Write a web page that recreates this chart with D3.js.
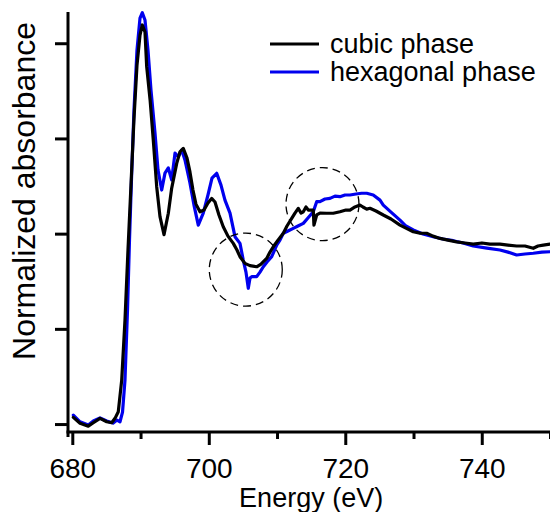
<!DOCTYPE html>
<html>
<head>
<meta charset="utf-8">
<script src="https://cdn.jsdelivr.net/npm/d3@7"></script>
<style>
  html, body { margin: 0; padding: 0; background: #fff; }
  svg { display: block; }
</style>
</head>
<body>
<svg id="chart"></svg>
<script>
// ── Data ──────────────────────────────────────────────
const energyCubic = [680.15,681.13,682.34,683.08,684.06,685.04,685.77,686.26,686.74,687.24,687.72,688.16,688.60,689.03,689.48,689.92,690.26,
  690.65,690.90,691.40,691.87,692.37,692.85,693.44,694.07,694.56,695.30,695.78,696.26,696.81,697.24,697.68,698.12,698.71,699.30,699.88,700.42,
  700.91,701.49,702.12,702.81,703.59,704.13,704.57,705.30,706.03,707.02,707.65,708.48,708.97,709.45,710.14,710.92,711.46,712.15,712.63,713.11,
  713.51,713.85,714.24,714.58,715.31,715.41,715.81,716.29,717.27,718.24,719.22,720.10,720.69,721.42,722.15,722.59,723.14,723.62,724.50,725.57,
  726.70,728.02,728.89,729.96,730.95,731.93,732.85,733.88,735.05,736.32,737.54,738.75,740.03,741.20,742.67,743.84,745.11,746.33,747.55,748.24,749.01,750];
const absCubic = [0.035,0.004,-0.011,0.007,0.030,0.012,0.007,0.030,0.065,0.231,0.546,0.914,1.255,1.597,1.885,2.043,2.096,
  2.059,1.877,1.702,1.49,1.245,1.089,0.995,1.107,1.238,1.369,1.430,1.448,1.397,1.324,1.229,1.155,1.115,1.124,1.161,1.185,
  1.166,1.098,1.036,0.987,0.949,0.914,0.879,0.844,0.832,0.826,0.840,0.870,0.903,0.931,0.966,1.002,1.040,1.080,1.108,1.133,
  1.108,1.115,1.140,1.124,1.124,1.045,1.098,1.108,1.107,1.107,1.115,1.124,1.124,1.140,1.150,1.140,1.129,1.133,1.119,1.098,
  1.077,1.045,1.029,1.010,1.003,1.002,0.987,0.975,0.966,0.957,0.951,0.945,0.951,0.945,0.945,0.940,0.935,0.935,0.923,0.935,0.940,0.945];

const energyHex = [680.15,681.13,682.34,683.08,684.06,685.04,685.96,686.55,686.99,687.36,687.72,688.09,688.38,688.67,689.04,689.48,689.92,690.26,
  690.65,691.09,691.53,692.12,692.56,693.10,693.58,694.07,694.56,695.05,695.53,696.03,696.51,697.24,697.83,698.46,699.19,699.88,700.47,701.16,
  701.79,702.37,703.11,703.84,704.57,705.05,705.45,705.79,706.04,706.29,707.02,707.50,707.99,708.53,709.22,709.95,710.43,710.92,711.60,712.38,
  713.07,713.85,714.53,715.31,715.81,716.29,717.03,717.76,718.49,719.22,719.96,720.69,721.57,722.40,723.14,724.10,725.09,725.57,726.70,728.02,
  728.89,729.96,731.38,732.89,734.31,735.82,737.25,738.75,740.76,742.67,743.84,745.11,746.33,747.55,748.82,750];
const absHex = [0.047,0.012,-0.005,0.016,0.032,0.016,0.005,0.021,0.012,0.063,0.231,0.599,0.966,1.282,1.649,1.964,2.132,2.160,
  2.122,1.964,1.754,1.528,1.334,1.229,1.318,1.345,1.282,1.423,1.404,1.439,1.387,1.266,1.150,1.045,1.108,1.203,1.292,1.317,
  1.255,1.176,1.108,0.984,0.949,0.861,0.798,0.713,0.767,0.774,0.774,0.798,0.826,0.851,0.879,0.940,0.966,1.002,1.014,1.028,
  1.040,1.054,1.082,1.115,1.168,1.168,1.182,1.185,1.197,1.194,1.203,1.203,1.208,1.212,1.212,1.203,1.176,1.150,1.113,1.071,
  1.040,1.019,0.998,0.984,0.972,0.963,0.951,0.935,0.924,0.914,0.903,0.888,0.893,0.897,0.903,0.905];

const xMajorTicks = [680, 700, 720, 740];
const xMinorTicks = [690, 710, 730, 750];
const yTicks      = [0, 0.5, 1, 1.5, 2];

const seriesNames  = ['cubic phase', 'hexagonal phase'];
const seriesColors = ['#000000', '#0000ee'];

// dashed circles: [energy, absorbance]
const circleCentres = [[705.42, 0.811], [716.66, 1.155]];

// ── Layout ────────────────────────────────────────────
const W = 550, H = 512;
const FONT = '"Liberation Sans", Arial, sans-serif';

const svg = d3.select('#chart').attr('width', W).attr('height', H);

const x = d3.scaleLinear().domain([680, 750]).range([72.3, 550]);
const y = d3.scaleLinear().domain([-0.068, 2.164]).range([437, 12]);

const axisX = 68, axisY = 432;

// ── Axes ──────────────────────────────────────────────
const yAxis = svg.append('g')
  .attr('transform', `translate(${axisX},0)`)
  .call(d3.axisLeft(y).tickValues(yTicks).tickSize(13).tickSizeOuter(0).tickFormat(''));
yAxis.select('.domain').remove();
yAxis.selectAll('line').attr('stroke', '#000').attr('stroke-width', 3);

svg.append('line')
  .attr('x1', axisX).attr('x2', axisX)
  .attr('y1', 12).attr('y2', 437)
  .attr('stroke', '#000').attr('stroke-width', 3);

const xAxis = svg.append('g')
  .attr('transform', `translate(0,${axisY})`)
  .call(d3.axisBottom(x).tickValues(xMajorTicks).tickSize(13).tickSizeOuter(0).tickPadding(13));
xAxis.select('.domain').remove();
xAxis.selectAll('line').attr('stroke', '#000').attr('stroke-width', 3);
xAxis.selectAll('text')
  .attr('fill', '#000').attr('font-size', 28).attr('font-family', FONT);

svg.append('g')
  .attr('transform', `translate(0,${axisY})`)
  .call(d3.axisBottom(x).tickValues(xMinorTicks).tickSize(7).tickSizeOuter(0).tickFormat(''))
  .call(g => g.select('.domain').remove())
  .call(g => g.selectAll('line').attr('stroke', '#000').attr('stroke-width', 3));

svg.append('line')
  .attr('x1', axisX - 1.5).attr('x2', W)
  .attr('y1', axisY).attr('y2', axisY)
  .attr('stroke', '#000').attr('stroke-width', 3);

// axis labels
svg.append('text')
  .attr('x', (x.range()[0] + x.range()[1]) / 2).attr('y', 507)
  .attr('text-anchor', 'middle')
  .attr('font-size', 27).attr('font-family', FONT)
  .text('Energy (eV)');

svg.append('text')
  .attr('transform', 'translate(35,191) rotate(-90)')
  .attr('text-anchor', 'middle')
  .attr('font-size', 32).attr('font-family', FONT)
  .text('Normalized absorbance');

// ── Curves ────────────────────────────────────────────
const line = d3.line()
  .x(d => x(d[0]))
  .y(d => y(d[1]))
  .curve(d3.curveLinear);

const seriesData = [
  d3.zip(energyCubic, absCubic),
  d3.zip(energyHex, absHex)
];

// hexagonal first so cubic sits over it where they overlap at the edge
[1, 0].forEach(i => {
  svg.append('path')
    .datum(seriesData[i])
    .attr('d', line)
    .attr('fill', 'none')
    .attr('stroke', seriesColors[i])
    .attr('stroke-width', 3.2)
    .attr('stroke-linejoin', 'round')
    .attr('stroke-linecap', 'round');
});

// ── Dashed circles ────────────────────────────────────
svg.selectAll('.ring')
  .data(circleCentres)
  .join('circle')
    .attr('class', 'ring')
    .attr('cx', d => x(d[0]))
    .attr('cy', d => y(d[1]))
    .attr('r', 36.5)
    .attr('fill', 'none')
    .attr('stroke', '#000')
    .attr('stroke-width', 1.3)
    .attr('stroke-dasharray', '8 5');

// ── Legend ────────────────────────────────────────────
const legend = svg.append('g').attr('transform', 'translate(270,44)');
seriesNames.forEach((name, i) => {
  const row = legend.append('g').attr('transform', `translate(0,${i * 28})`);
  row.append('line')
    .attr('x1', 0).attr('x2', 49)
    .attr('stroke', seriesColors[i]).attr('stroke-width', 3);
  row.append('text')
    .attr('x', 60).attr('y', 9)
    .attr('font-size', 27).attr('font-family', FONT)
    .text(name);
});
</script>
</body>
</html>
